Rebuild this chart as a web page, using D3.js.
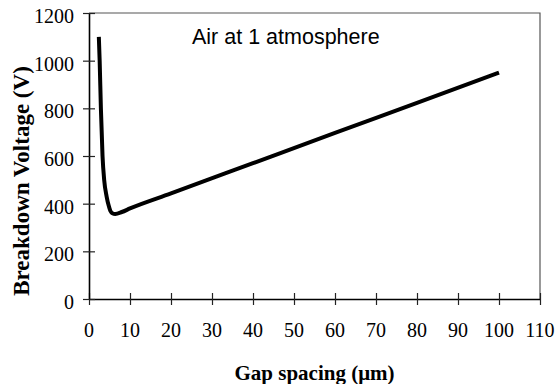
<!DOCTYPE html>
<html>
<head>
<meta charset="utf-8">
<script src="https://cdn.jsdelivr.net/npm/d3@7"></script>
<style>
  body { margin: 0; background: #fff; }
  svg { display: block; }
</style>
</head>
<body>
<div id="chart"></div>
<script>
// values
const gap = [2.4, 2.6, 2.9, 3.3, 3.7, 4.3, 4.8, 5.2, 5.7, 6.4, 8, 10, 20, 40, 60, 80, 100];
const volt = [1100, 1000, 800, 600, 500, 430, 392, 370, 360, 357, 365, 380, 443, 570, 697, 823, 950];
const xTicks = [0, 10, 20, 30, 40, 50, 60, 70, 80, 90, 100, 110];
const yTicks = [0, 200, 400, 600, 800, 1000, 1200];
const note = 'Air at 1 atmosphere';

const width = 558, height = 384;
const margin = {top: 13, right: 18, bottom: 85, left: 89};

const svg = d3.select('#chart')
    .append('svg')
    .attr('width', width)
    .attr('height', height);

const x = d3.scaleLinear().domain([0, 110]).range([margin.left, width - margin.right]);
const y = d3.scaleLinear().domain([0, 1200]).range([height - margin.bottom, margin.top]);

// frame on top and right
svg.append('path')
    .attr('d', `M${x(0)},${y(1200)}H${x(110)}V${y(0)}`)
    .attr('fill', 'none')
    .attr('stroke', '#555')
    .attr('stroke-width', 1.2);

// x axis, ticks cross the line
const xAxis = svg.append('g')
    .attr('transform', `translate(0,${y(0)})`)
    .call(d3.axisBottom(x).tickValues(xTicks).tickSize(6).tickSizeOuter(0).tickFormat(''));
xAxis.select('.domain').attr('stroke', '#000').attr('stroke-width', 1.6);
xAxis.selectAll('.tick line').attr('y1', -6).attr('stroke', '#222').attr('stroke-width', 1.2);

svg.append('g').selectAll('text')
    .data(xTicks)
    .join('text')
    .attr('x', d => x(d))
    .attr('y', y(0) + 38)
    .attr('text-anchor', 'middle')
    .attr('font-family', 'Liberation Serif, serif')
    .attr('font-size', 20)
    .text(d => d);

// y axis
const yAxis = svg.append('g')
    .attr('transform', `translate(${x(0)},0)`)
    .call(d3.axisLeft(y).tickValues(yTicks).tickSize(6).tickSizeOuter(0).tickFormat(''));
yAxis.select('.domain').attr('stroke', '#000').attr('stroke-width', 1.6);
yAxis.selectAll('.tick line').attr('x1', 6).attr('x2', -6).attr('stroke', '#222').attr('stroke-width', 1.2);

svg.append('g').selectAll('text')
    .data(yTicks)
    .join('text')
    .attr('x', x(0) - 15)
    .attr('y', d => y(d) + 10)
    .attr('text-anchor', 'end')
    .attr('font-family', 'Liberation Serif, serif')
    .attr('font-size', 20)
    .text(d => d);

// axis titles
svg.append('text')
    .attr('x', (x(0) + x(110)) / 2)
    .attr('y', 380)
    .attr('text-anchor', 'middle')
    .attr('font-family', 'Liberation Serif, serif')
    .attr('font-weight', 'bold')
    .attr('font-size', 21)
    .text('Gap spacing (\u03bcm)');

svg.append('text')
    .attr('transform', 'translate(29,181) rotate(-90)')
    .attr('text-anchor', 'middle')
    .attr('font-family', 'Liberation Serif, serif')
    .attr('font-weight', 'bold')
    .attr('font-size', 23)
    .text('Breakdown Voltage (V)');

// annotation
svg.append('text')
    .attr('x', 192)
    .attr('y', 44)
    .attr('font-family', 'Liberation Sans, Arial, sans-serif')
    .attr('font-size', 21.5)
    .text(note);

// curve
const line = d3.line()
    .x((d, i) => x(gap[i]))
    .y((d, i) => y(volt[i]))
    .curve(d3.curveMonotoneX);

svg.append('path')
    .attr('d', line(gap))
    .attr('fill', 'none')
    .attr('stroke', '#000')
    .attr('stroke-width', 4);
</script>
</body>
</html>
